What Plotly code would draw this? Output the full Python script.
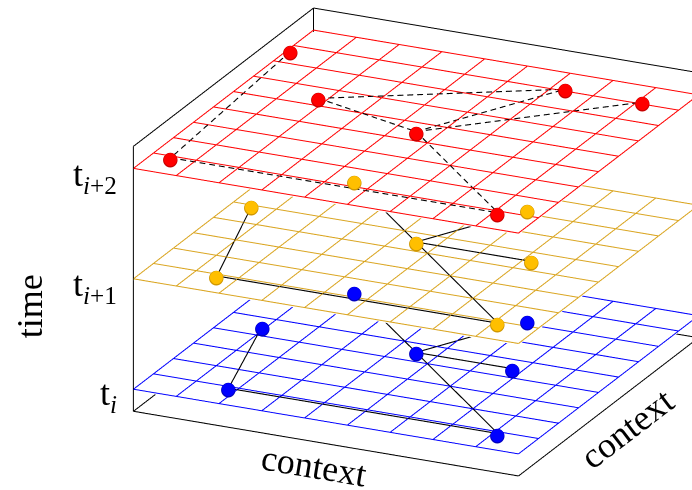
import math
import plotly.graph_objects as go

# ---------------- data ----------------
x_range = [0, 1]
y_range = [0, 1]
z_range = [-0.2, 2.2]
grid_samples = 10            # 10 samples -> 9 cells per side

time_levels = [0, 1, 2]
time_ticktext = ['t<sub><i>i</i></sub>', 't<sub><i>i</i>+1</sub>', 't<sub><i>i</i>+2</sub>']
grid_colors = ['#0000FF', '#DAA520', '#FF0000']
point_colors = ['#0000FF', '#FFBF00', '#FF0000']
point_edge_colors = ['#0000C0', '#D09800', '#C80000']
edge_dashed = [False, False, True]

blue_x = [0.20, 0.10, 0.20, 0.50, 0.65, 0.75, 0.90]
blue_y = [0.10, 0.50, 0.80, 0.50, 0.80, 0.50, 0.10]
blue_edges = [(0, 1), (0, 6), (2, 3), (3, 6), (3, 5), (3, 4)]

yellow_x = [0.05, 0.17, 0.20, 0.50, 0.65, 0.80, 0.90]
yellow_y = [0.55, 0.10, 0.80, 0.50, 0.80, 0.50, 0.10]
yellow_edges = [(0, 1), (1, 6), (2, 3), (3, 6), (3, 5), (3, 4)]

red_x = [0.01, 0.20, 0.50, 0.70, 0.90, 0.05, 0.90]
red_y = [0.85, 0.60, 0.50, 0.90, 0.90, 0.10, 0.10]
red_edges = [(0, 5), (5, 6), (1, 2), (2, 6), (2, 4), (2, 3), (1, 3)]

axis_titles = {'x': 'context', 'y': 'context', 'z': 'time'}

layers = [
    (blue_x, blue_y, blue_edges),
    (yellow_x, yellow_y, yellow_edges),
    (red_x, red_y, red_edges),
]

# ---------------- view (orthographic) ----------------
el = math.radians(21.05)
phi = math.radians(-64.93)
view = (math.cos(el) * math.cos(phi), math.cos(el) * math.sin(phi), math.sin(el))
right = (-math.sin(phi), math.cos(phi), 0.0)
up = (-math.sin(el) * math.cos(phi), -math.sin(el) * math.sin(phi), math.cos(el))
zoom = 1.735
aspect = (zoom, zoom, 0.668 * zoom)
k = 250.0                      # screen px per normalised scene unit
shift_r, shift_u = -71.45, -3.05
center = [(shift_r * right[i] + shift_u * up[i]) / k for i in range(3)]
dist = 2.0
eye = [center[i] + dist * view[i] for i in range(3)]

x0, x1 = x_range
y0, y1 = y_range
z0, z1 = z_range
spans = (x1 - x0, y1 - y0, z1 - z0)

# tiny padding so the frame lines sitting on the range limits are not clipped
pad = 0.002
plot_ranges = [[lo - pad * s, hi + pad * s] for (lo, hi), s in zip((x_range, y_range, z_range), spans)]
plot_aspect = [a * (1 + 2 * pad) for a in aspect]


def screen_len(a, b):
    """approximate on-screen length (px) of a data-space segment, for the dash pattern"""
    w = [(b[i] - a[i]) / spans[i] * aspect[i] * k for i in range(3)]
    sx = sum(w[i] * right[i] for i in range(3))
    sy = sum(w[i] * up[i] for i in range(3))
    return math.hypot(sx, sy)


DASH_ON, DASH_PERIOD = 6.0, 10.0

# ---------------- figure ----------------
fig = go.Figure()

# box outline (the three back faces)
box_edges = [
    ((x0, y0, z0), (x1, y0, z0)), ((x1, y0, z0), (x1, y1, z0)),
    ((x1, y1, z0), (x0, y1, z0)), ((x0, y1, z0), (x0, y0, z0)),
    ((x0, y0, z0), (x0, y0, z1)), ((x0, y1, z0), (x0, y1, z1)),
    ((x0, y0, z1), (x0, y1, z1)), ((x1, y1, z0), (x1, y1, z1)),
    ((x0, y1, z1), (x1, y1, z1)),
]
bx, by, bz = [], [], []
for a, b in box_edges:
    bx += [a[0], b[0], None]
    by += [a[1], b[1], None]
    bz += [a[2], b[2], None]
fig.add_trace(go.Scatter3d(x=bx, y=by, z=bz, mode='lines',
                           line=dict(color='black', width=2),
                           hoverinfo='skip', showlegend=False))

ticks = [x0 + (x1 - x0) * i / (grid_samples - 1) for i in range(grid_samples)]
eps = 0.006 * (z1 - z0)

for li, lvl in enumerate(time_levels):
    # opaque white plane, a hair below its level
    fig.add_trace(go.Surface(
        x=[x0, x1], y=[y0, y1], z=[[lvl - eps, lvl - eps], [lvl - eps, lvl - eps]],
        colorscale=[[0, 'white'], [1, 'white']], showscale=False,
        lighting=dict(ambient=1, diffuse=0, specular=0, fresnel=0, roughness=1),
        hoverinfo='skip'))
    # mesh
    gx, gy, gz = [], [], []
    for t in ticks:
        gx += [t, t, None]; gy += [y0, y1, None]; gz += [lvl, lvl, None]
        gx += [x0, x1, None]; gy += [t, t, None]; gz += [lvl, lvl, None]
    fig.add_trace(go.Scatter3d(x=gx, y=gy, z=gz, mode='lines',
                               line=dict(color=grid_colors[li], width=2),
                               hoverinfo='skip', showlegend=False))
    # graph edges
    px, py, edges = layers[li]
    ex, ey, ez = [], [], []
    for i, j in edges:
        a = (px[i], py[i], lvl)
        b = (px[j], py[j], lvl)
        if edge_dashed[li]:
            n = max(1, round(screen_len(a, b) / DASH_PERIOD))
            for s in range(n):
                t0 = s / n
                t1 = (s + DASH_ON / DASH_PERIOD) / n
                ex += [a[0] + (b[0] - a[0]) * t0, a[0] + (b[0] - a[0]) * t1, None]
                ey += [a[1] + (b[1] - a[1]) * t0, a[1] + (b[1] - a[1]) * t1, None]
                ez += [lvl, lvl, None]
        else:
            ex += [a[0], b[0], None]; ey += [a[1], b[1], None]; ez += [lvl, lvl, None]
    fig.add_trace(go.Scatter3d(x=ex, y=ey, z=ez, mode='lines',
                               line=dict(color='black', width=2.2),
                               hoverinfo='skip', showlegend=False))
    # nodes
    fig.add_trace(go.Scatter3d(x=px, y=py, z=[lvl] * len(px), mode='markers',
                               marker=dict(size=4, color=point_colors[li]),
                               hoverinfo='skip', showlegend=False))

# node discs drawn above every plane, as in the original
annotations = []
for li, lvl in enumerate(time_levels):
    px, py, _ = layers[li]
    for xv, yv in zip(px, py):
        for col, sz in ((point_edge_colors[li], 19), (point_colors[li], 17)):
            annotations.append(dict(x=xv, y=yv, z=lvl, text='●', showarrow=False,
                                    xanchor='center', yanchor='middle',
                                    font=dict(family='DejaVu Sans', size=sz, color=col)))

serif = 'Liberation Serif'
tick_yshift = [-6, -8, -8]
for lvl, txt, ys in zip(time_levels, time_ticktext, tick_yshift):
    annotations.append(dict(x=x0, y=y0, z=lvl, text=txt, showarrow=False,
                            xanchor='right', yanchor='middle', xshift=-14, yshift=ys,
                            font=dict(family=serif, size=36, color='black')))
annotations.append(dict(x=(x0 + x1) / 2, y=y0, z=z0, text=axis_titles['x'], showarrow=False,
                        xanchor='center', yanchor='middle', xshift=-12, yshift=-22, textangle=9.5,
                        font=dict(family=serif, size=36, color='black')))
annotations.append(dict(x=x1, y=(y0 + y1) / 2, z=z0, text=axis_titles['y'], showarrow=False,
                        xanchor='center', yanchor='middle', xshift=18, yshift=-22, textangle=-37.5,
                        font=dict(family=serif, size=36, color='black')))
annotations.append(dict(x=x0, y=y0, z=(z0 + z1) / 2, text=axis_titles['z'], showarrow=False,
                        xanchor='center', yanchor='middle', xshift=-104, yshift=-27, textangle=-90,
                        font=dict(family=serif, size=36, color='black')))

hidden = dict(visible=False, showgrid=False, showline=False, zeroline=False,
              showticklabels=False, showbackground=False, showspikes=False, title='')
fig.update_layout(
    width=692, height=490,
    margin=dict(l=0, r=0, t=0, b=0),
    paper_bgcolor='white',
    showlegend=False,
    scene=dict(
        domain=dict(x=[0, 1], y=[0, 1]),
        xaxis=dict(range=plot_ranges[0], **hidden),
        yaxis=dict(range=plot_ranges[1], **hidden),
        zaxis=dict(range=plot_ranges[2], **hidden),
        aspectmode='manual',
        aspectratio=dict(x=plot_aspect[0], y=plot_aspect[1], z=plot_aspect[2]),
        camera=dict(projection=dict(type='orthographic'),
                    up=dict(x=0, y=0, z=1),
                    center=dict(x=center[0], y=center[1], z=center[2]),
                    eye=dict(x=eye[0], y=eye[1], z=eye[2])),
        annotations=annotations,
        bgcolor='white',
        dragmode=False,
    ),
)
fig.write_html('out.html', config={'displayModeBar': False},
               post_script="document.body.style.margin='0px';")
